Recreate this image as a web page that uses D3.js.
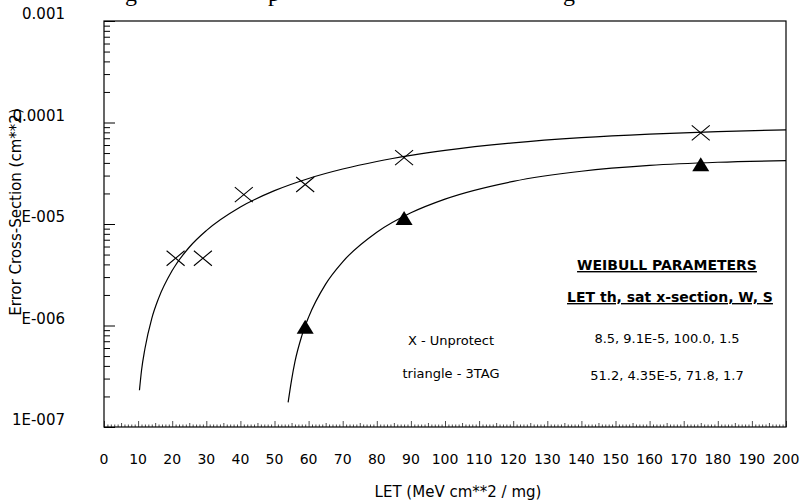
<!DOCTYPE html>
<html>
<head>
<meta charset="utf-8">
<script src="https://cdn.jsdelivr.net/npm/d3@7"></script>
<style>
  body { margin: 0; background: #fff; }
  svg text { font-family: "DejaVu Sans", sans-serif; fill: #000; }
</style>
</head>
<body>
<div id="chart"></div>
<script>
// data
var xTickLabels = [0, 10, 20, 30, 40, 50, 60, 70, 80, 90, 100, 110, 120, 130, 140, 150, 160, 170, 180, 190, 200]
var yTickValues = [1e-3, 1e-4, 1e-5, 1e-6, 1e-7]
var yTickLabels = ['0.001', '0.0001', 'E-005', 'E-006', '1E-007']

// X - Unprotect measured points
var unprotectLet = [21, 29, 41, 59, 88, 175]
var unprotectSigma = [4.6e-6, 4.6e-6, 1.95e-5, 2.45e-5, 4.5e-5, 7.9e-5]

// triangle - 3TAG measured points
var tagLet = [59, 88, 175]
var tagSigma = [9.5e-7, 1.12e-5, 3.8e-5]

// fitted curves
var unprotectCurveLet = [10.4, 11, 12, 14, 16, 20, 25, 30, 40, 50, 60, 70, 80, 90, 100, 120, 140, 160, 180, 200]
var unprotectCurveSigma = [2.3e-7, 3.6e-7, 5.9e-7, 1.17e-6, 1.85e-6, 3.48e-6, 5.9e-6, 8.6e-6, 1.47e-5, 2.13e-5, 2.81e-5, 3.48e-5, 4.13e-5, 4.74e-5, 5.31e-5, 6.3e-5, 7.09e-5, 7.69e-5, 8.14e-5, 8.46e-5]
var tagCurveLet = [54, 55, 56, 58, 60, 65, 70, 80, 90, 100, 120, 140, 160, 180, 200]
var tagCurveSigma = [1.75e-7, 2.9e-7, 4.4e-7, 7.9e-7, 1.21e-6, 2.56e-6, 4.24e-6, 8.3e-6, 1.29e-5, 1.76e-5, 2.63e-5, 3.31e-5, 3.78e-5, 4.06e-5, 4.21e-5]

var legendLeft = ['X - Unprotect', 'triangle - 3TAG']
var legendRight = ['8.5, 9.1E-5, 100.0, 1.5', '51.2, 4.35E-5, 71.8, 1.7']

var width = 800
var height = 504
var margin = { top: 21, right: 14, bottom: 77, left: 104 }

var svg = d3.select('#chart')
  .append('svg')
  .attr('width', width)
  .attr('height', height)

var xScale = d3.scaleLinear()
  .domain([0, 200])
  .range([margin.left, width - margin.right])

var yScale = d3.scaleLog()
  .domain([1e-7, 1e-3])
  .range([height - margin.bottom, margin.top])

// cut-off caption line from the page above the figure
svg.append('g')
  .selectAll('text')
  .data([{ c: 'g', x: 125 }, { c: 'p', x: 268 }, { c: 'g', x: 563 }])
  .enter()
  .append('text')
  .attr('x', d => d.x)
  .attr('y', 1)
  .style('font-family', '"Liberation Serif", serif')
  .style('font-size', '24px')
  .text(d => d.c)

// frame
svg.append('rect')
  .attr('x', margin.left)
  .attr('y', margin.top)
  .attr('width', width - margin.left - margin.right)
  .attr('height', height - margin.top - margin.bottom)
  .attr('fill', 'none')
  .attr('stroke', '#000')
  .attr('stroke-width', 1.2)

// Y axis, ticks pointing inward
var yAxis = d3.axisRight(yScale)
  .tickValues(yScale.ticks())
  .tickFormat('')
  .tickSizeOuter(0)

svg.append('g')
  .attr('class', 'y-axis')
  .attr('transform', `translate(${margin.left},0)`)
  .call(yAxis)
  .call(g => g.select('.domain').remove())
  .selectAll('.tick line')
  .attr('x2', d => {
    var m = d / Math.pow(10, Math.floor(Math.log10(d) + 1e-9))
    return Math.abs(m - 1) < 1e-6 ? 11 : 6
  })
  .style('stroke', '#000')

svg.append('g')
  .selectAll('text')
  .data(yTickValues)
  .enter()
  .append('text')
  .attr('x', 65)
  .attr('y', d => yScale(d) - 2)
  .attr('text-anchor', 'end')
  .style('font-size', '15px')
  .text((d, i) => yTickLabels[i])

// X axis, ticks pointing up
var xAxis = d3.axisTop(xScale)
  .tickValues(d3.range(0, 201, 1))
  .tickFormat('')
  .tickSizeOuter(0)

svg.append('g')
  .attr('class', 'x-axis')
  .attr('transform', `translate(0,${height - margin.bottom})`)
  .call(xAxis)
  .call(g => g.select('.domain').remove())
  .selectAll('.tick line')
  .attr('y2', d => d % 10 === 0 ? -6 : d % 5 === 0 ? -4 : -2.5)
  .style('stroke', '#000')
  .style('stroke-width', 0.7)

svg.append('g')
  .selectAll('text')
  .data(xTickLabels)
  .enter()
  .append('text')
  .attr('x', d => xScale(d))
  .attr('y', 464)
  .attr('text-anchor', 'middle')
  .style('font-size', '14px')
  .text(d => d)

// axis titles
svg.append('text')
  .attr('x', 458)
  .attr('y', 497)
  .attr('text-anchor', 'middle')
  .style('font-size', '15px')
  .text('LET (MeV cm**2 / mg)')

svg.append('text')
  .attr('text-anchor', 'middle')
  .attr('transform', `translate(21,${212}) rotate(-90)`)
  .style('font-size', '15px')
  .text('Error Cross-Section (cm**2)')

// curves
var line = d3.line()
  .x(d => xScale(d[0]))
  .y(d => yScale(d[1]))
  .curve(d3.curveMonotoneX)

svg.append('path')
  .datum(d3.zip(unprotectCurveLet, unprotectCurveSigma))
  .attr('d', line)
  .attr('fill', 'none')
  .attr('stroke', '#000')
  .attr('stroke-width', 1.2)

svg.append('path')
  .datum(d3.zip(tagCurveLet, tagCurveSigma))
  .attr('d', line)
  .attr('fill', 'none')
  .attr('stroke', '#000')
  .attr('stroke-width', 1.2)

// X markers
svg.append('g')
  .selectAll('path')
  .data(d3.zip(unprotectLet, unprotectSigma))
  .enter()
  .append('path')
  .attr('transform', d => `translate(${xScale(d[0])},${yScale(d[1])})`)
  .attr('d', 'M-9,-7.5L9,7.5M-9,7.5L9,-7.5')
  .attr('stroke', '#000')
  .attr('stroke-width', 1.1)
  .attr('fill', 'none')

// triangle markers
svg.append('g')
  .selectAll('path')
  .data(d3.zip(tagLet, tagSigma))
  .enter()
  .append('path')
  .attr('transform', d => `translate(${xScale(d[0])},${yScale(d[1])})`)
  .attr('d', 'M0,-8L8.5,6L-8.5,6Z')
  .attr('fill', '#000')

// parameter table
svg.append('text')
  .attr('x', 667)
  .attr('y', 270)
  .attr('text-anchor', 'middle')
  .style('font-size', '14px')
  .style('font-weight', 'bold')
  .style('text-decoration', 'underline')
  .text('WEIBULL PARAMETERS')

svg.append('text')
  .attr('x', 670)
  .attr('y', 302)
  .attr('text-anchor', 'middle')
  .style('font-size', '14px')
  .style('font-weight', 'bold')
  .style('text-decoration', 'underline')
  .text('LET th, sat x-section, W, S')

svg.append('g')
  .selectAll('text')
  .data(legendRight)
  .enter()
  .append('text')
  .attr('x', 667)
  .attr('y', (d, i) => 343 + i * 37)
  .attr('text-anchor', 'middle')
  .style('font-size', '13px')
  .text(d => d)

svg.append('g')
  .selectAll('text')
  .data(legendLeft)
  .enter()
  .append('text')
  .attr('x', 451)
  .attr('y', (d, i) => 345 + i * 33)
  .attr('text-anchor', 'middle')
  .style('font-size', '13px')
  .text(d => d)
</script>
</body>
</html>
